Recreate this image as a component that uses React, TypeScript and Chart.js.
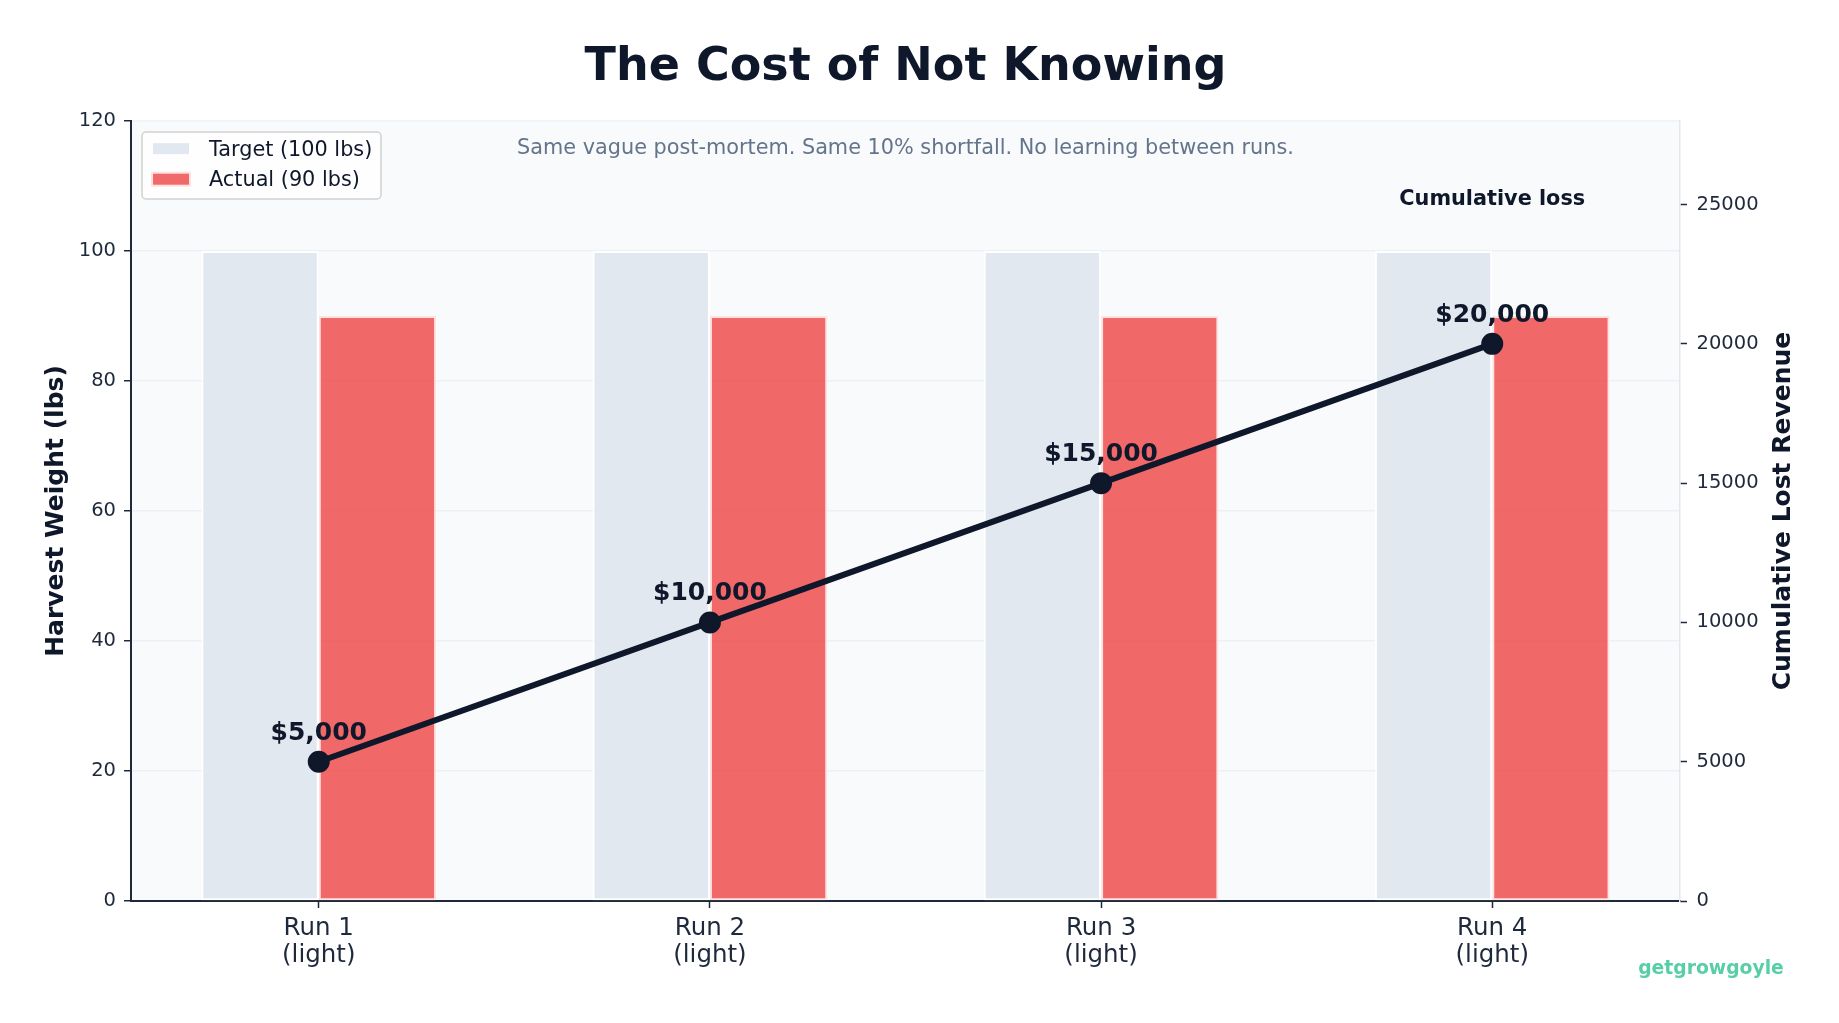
import React, { useEffect, useRef } from 'react';
import { Chart, registerables } from 'chart.js';

Chart.register(...registerables);

// ---- data ----
const runs = ['Run 1', 'Run 2', 'Run 3', 'Run 4'];
const runNotes = ['(light)', '(light)', '(light)', '(light)'];
const targetLbs = [100, 100, 100, 100];
const actualLbs = [90, 90, 90, 90];
const cumulativeLoss = [5000, 10000, 15000, 20000];

const weightTicks = [0, 20, 40, 60, 80, 100, 120];
const lossTicks = [0, 5000, 10000, 15000, 20000, 25000];
const weightMax = 120;
const lossMax = 28000;

const TITLE = 'The Cost of Not Knowing';
const SUBTITLE = 'Same vague post-mortem. Same 10% shortfall. No learning between runs.';
const LEFT_TITLE = 'Harvest Weight (lbs)';
const RIGHT_TITLE = 'Cumulative Lost Revenue';
const LOSS_NOTE = 'Cumulative loss';
const BRAND = 'getgrowgoyle';

const FONT = "'DejaVu Sans', 'Liberation Sans', sans-serif";
const INK = '#0f172a';
const TICK_INK = '#1e293b';
const TARGET_FILL = '#e2e8f0';
const ACTUAL_FILL = 'rgba(239, 68, 68, 0.8)';
const ACTUAL_EDGE = '#fde2e2';

const money = (v: number) => '$' + v.toLocaleString('en-US');

const decorations = {
  id: 'decorations',
  beforeDraw(chart: any) {
    const { ctx, chartArea: a } = chart;
    ctx.save();
    ctx.fillStyle = '#f8fafc';
    ctx.fillRect(a.left, a.top, a.right - a.left, a.bottom - a.top);
    ctx.restore();
  },
  afterDraw(chart: any) {
    const { ctx, chartArea: a, scales } = chart;
    const cx = (a.left + a.right) / 2;
    const cy = (a.top + a.bottom) / 2;
    ctx.save();
    ctx.textBaseline = 'alphabetic';
    ctx.textAlign = 'center';

    // title + subtitle
    ctx.fillStyle = INK;
    ctx.font = `bold 46px ${FONT}`;
    ctx.fillText(TITLE, cx, 80);
    ctx.fillStyle = '#64748b';
    ctx.font = `20.8px ${FONT}`;
    ctx.fillText(SUBTITLE, cx, 154);

    // axis titles
    ctx.fillStyle = INK;
    ctx.font = `bold 25px ${FONT}`;
    ctx.save();
    ctx.translate(63, cy);
    ctx.rotate(-Math.PI / 2);
    ctx.fillText(LEFT_TITLE, 0, 0);
    ctx.restore();
    ctx.save();
    ctx.translate(1790, cy);
    ctx.rotate(-Math.PI / 2);
    ctx.fillText(RIGHT_TITLE, 0, 0);
    ctx.restore();

    // value labels above the loss points
    const meta = chart.getDatasetMeta(2);
    ctx.font = `bold 25px ${FONT}`;
    ctx.fillStyle = INK;
    meta.data.forEach((pt: any, i: number) => {
      ctx.fillText(money(cumulativeLoss[i]), pt.x, pt.y - 22);
    });

    // note over the last run
    ctx.font = `bold 20.8px ${FONT}`;
    ctx.fillText(LOSS_NOTE, scales.x.getPixelForValue(runs.length - 1), 205);

    // brand mark
    ctx.font = `bold 18.75px ${FONT}`;
    ctx.fillStyle = 'rgba(16, 185, 129, 0.7)';
    ctx.fillText(BRAND, 1711, 974);

    // legend box
    const lx = a.left + 11;
    const ly = a.top + 11;
    const lw = 239;
    const lh = 67;
    ctx.beginPath();
    ctx.roundRect(lx, ly, lw, lh, 4);
    ctx.fillStyle = 'rgba(255, 255, 255, 0.8)';
    ctx.fill();
    ctx.lineWidth = 1.5;
    ctx.strokeStyle = 'rgba(204, 204, 204, 0.9)';
    ctx.stroke();

    const items = [
      { label: chart.data.datasets[0].label, fill: TARGET_FILL, edge: '#ffffff' },
      { label: chart.data.datasets[1].label, fill: ACTUAL_FILL, edge: ACTUAL_EDGE },
    ];
    ctx.textAlign = 'left';
    ctx.font = `20.8px ${FONT}`;
    items.forEach((it, i) => {
      const yc = ly + 16.7 + i * 30.5;
      ctx.fillStyle = it.fill;
      ctx.fillRect(lx + 10, yc - 6.5, 38, 13);
      ctx.lineWidth = 2;
      ctx.strokeStyle = it.edge;
      ctx.strokeRect(lx + 10, yc - 6.5, 38, 13);
      ctx.fillStyle = INK;
      ctx.fillText(it.label, lx + 67, yc + 7);
    });

    ctx.restore();
  },
};

export default function App() {
  const canvasRef = useRef<HTMLCanvasElement | null>(null);

  useEffect(() => {
    const canvas = canvasRef.current;
    if (!canvas) return;

    const chart = new Chart(canvas, {
      type: 'bar',
      data: {
        datasets: [
          {
            type: 'bar',
            label: 'Target (100 lbs)',
            data: runs.map((_, i) => ({ x: i, y: targetLbs[i] })),
            backgroundColor: TARGET_FILL,
            borderColor: '#ffffff',
            borderWidth: 2,
            borderSkipped: false,
            yAxisID: 'y',
            order: 2,
            categoryPercentage: 0.6,
            barPercentage: 1.0,
          },
          {
            type: 'bar',
            label: 'Actual (90 lbs)',
            data: runs.map((_, i) => ({ x: i, y: actualLbs[i] })),
            backgroundColor: ACTUAL_FILL,
            borderColor: ACTUAL_EDGE,
            borderWidth: 2,
            borderSkipped: false,
            yAxisID: 'y',
            order: 2,
            categoryPercentage: 0.6,
            barPercentage: 1.0,
          },
          {
            type: 'line',
            label: 'Cumulative loss',
            data: runs.map((_, i) => ({ x: i, y: cumulativeLoss[i] })),
            borderColor: INK,
            backgroundColor: INK,
            borderWidth: 6,
            pointRadius: 10,
            pointBorderWidth: 2,
            pointBackgroundColor: INK,
            pointBorderColor: INK,
            yAxisID: 'y1',
            order: 0,
            tension: 0,
          },
        ],
      } as any,
      options: {
        animation: false,
        responsive: false,
        maintainAspectRatio: false,
        devicePixelRatio: 1,
        layout: { padding: { top: 121, left: 0, right: 0, bottom: 0 } },
        plugins: {
          legend: { display: false },
          tooltip: { enabled: false },
          title: { display: false },
        },
        scales: {
          x: {
            type: 'linear',
            min: -0.48,
            max: runs.length - 1 + 0.48,
            offset: false,
            afterBuildTicks: (s: any) => {
              s.ticks = runs.map((_, i) => ({ value: i }));
            },
            afterFit: (s: any) => {
              s.height = 122;
            },
            grid: {
              display: true,
              offset: false,
              drawOnChartArea: false,
              drawTicks: true,
              tickLength: 7,
              tickColor: TICK_INK,
              tickWidth: 1.5,
            },
            border: { display: true, color: TICK_INK, width: 2 },
            ticks: {
              autoSkip: false,
              maxRotation: 0,
              padding: 7,
              color: TICK_INK,
              font: { family: FONT, size: 24.5, lineHeight: 1.1 },
              callback: (v: any) => {
                const i = Math.round(Number(v));
                return runs[i] ? [runs[i], runNotes[i]] : '';
              },
            },
          },
          y: {
            type: 'linear',
            position: 'left',
            min: 0,
            max: weightMax,
            afterBuildTicks: (s: any) => {
              s.ticks = weightTicks.map((value) => ({ value }));
            },
            afterFit: (s: any) => {
              s.width = 131;
            },
            grid: {
              color: 'rgba(226, 232, 240, 0.5)',
              lineWidth: 1.5,
              drawTicks: true,
              tickLength: 7,
              tickColor: TICK_INK,
              tickWidth: 1.5,
            },
            border: { display: true, color: TICK_INK, width: 2 },
            ticks: {
              padding: 8,
              color: TICK_INK,
              font: { family: FONT, size: 19.5 },
              callback: (v: any) => String(v),
            },
          },
          y1: {
            type: 'linear',
            position: 'right',
            min: 0,
            max: lossMax,
            afterBuildTicks: (s: any) => {
              s.ticks = lossTicks.map((value) => ({ value }));
            },
            afterFit: (s: any) => {
              s.width = 159;
            },
            grid: {
              display: true,
              drawOnChartArea: false,
              drawTicks: true,
              tickLength: 7,
              tickColor: TICK_INK,
              tickWidth: 1.5,
            },
            border: { display: true, color: '#e2e8f0', width: 1.5 },
            ticks: {
              padding: 9.5,
              color: TICK_INK,
              font: { family: FONT, size: 19.5 },
              callback: (v: any) => String(v),
            },
          },
        },
      } as any,
      plugins: [decorations],
    });

    return () => chart.destroy();
  }, []);

  return (
    <div style={{ position: 'absolute', left: 0, top: 0, width: 1839, height: 1023, background: '#ffffff' }}>
      <canvas ref={canvasRef} width={1839} height={1023} style={{ display: 'block', width: 1839, height: 1023 }} />
    </div>
  );
}
